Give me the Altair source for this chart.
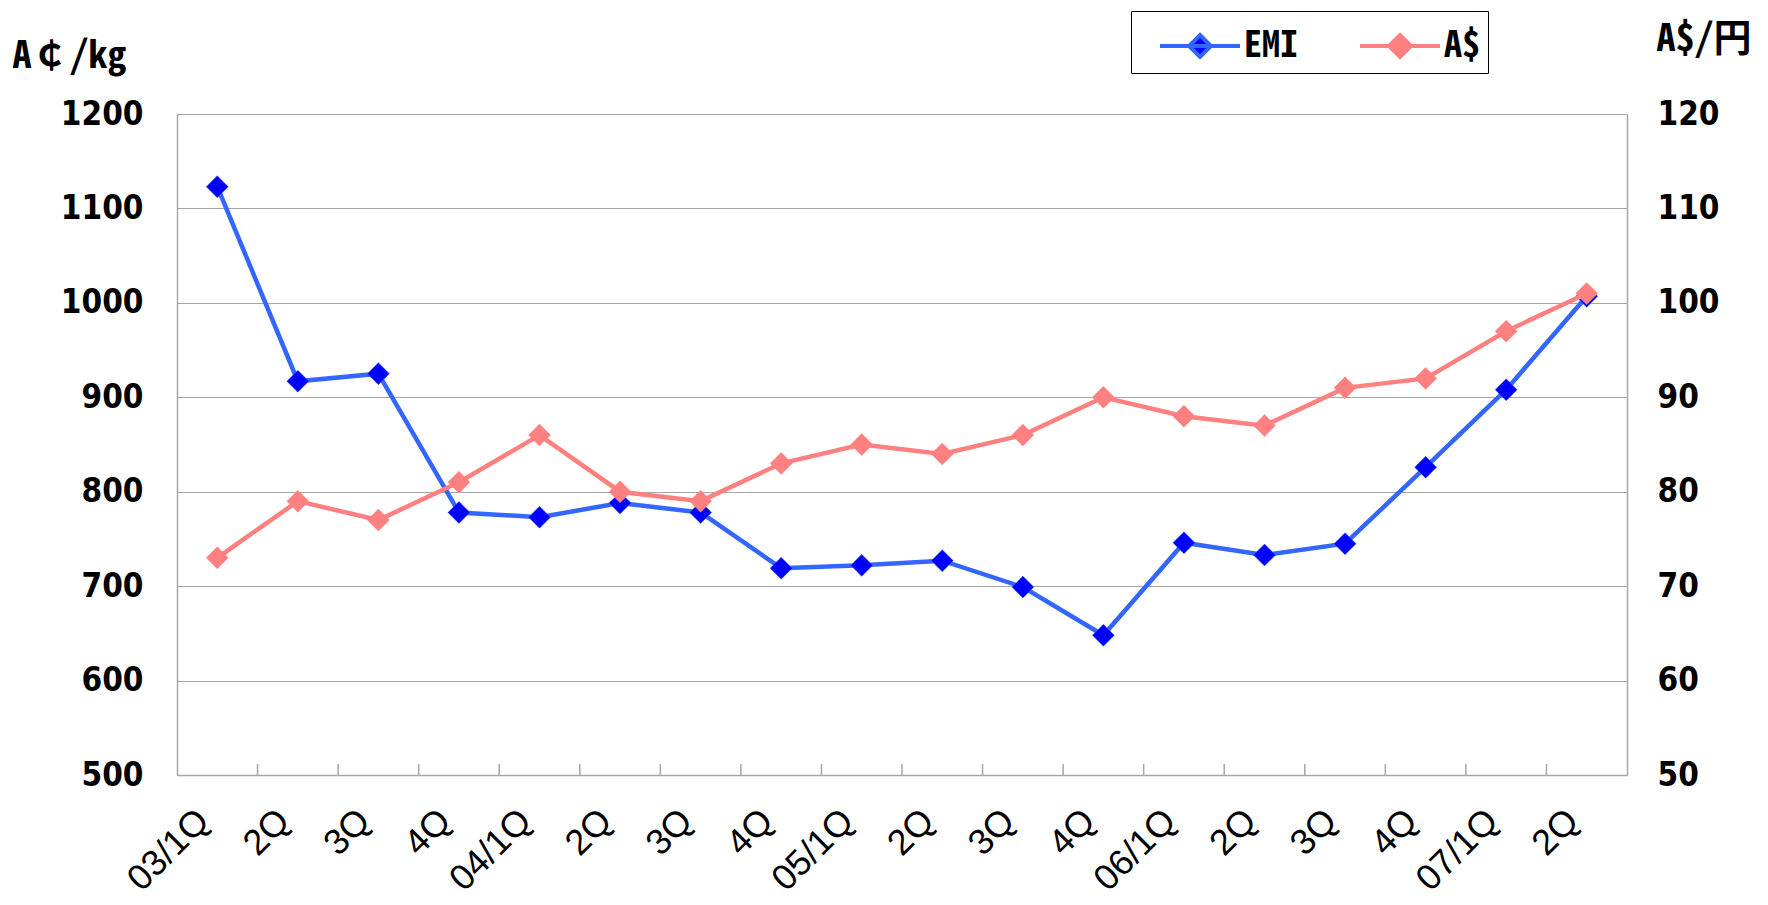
import altair as alt
import pandas as pd

# ---- data ----
quarters = ["03/1Q", "03/2Q", "03/3Q", "03/4Q",
            "04/1Q", "04/2Q", "04/3Q", "04/4Q",
            "05/1Q", "05/2Q", "05/3Q", "05/4Q",
            "06/1Q", "06/2Q", "06/3Q", "06/4Q",
            "07/1Q", "07/2Q"]
emi_values = [1123, 917, 925, 778, 773, 788, 778, 719, 722, 727, 699, 648,
              746, 733, 745, 826, 908, 1007]
aud_values = [73, 79, 77, 81, 86, 80, 79, 83, 85, 84, 86, 90,
              88, 87, 91, 92, 97, 101]
series_names = ["EMI", "A$"]
line_colors = ["#3366FF", "#FF8080"]
marker_colors = ["#0000FF", "#FF8080"]
left_ticks = [500, 600, 700, 800, 900, 1000, 1100, 1200]
right_ticks = [50, 60, 70, 80, 90, 100, 110, 120]

emi_df = pd.DataFrame({"q": quarters, "value": emi_values, "series": "EMI"})
aud_df = pd.DataFrame({"q": quarters, "value": aud_values, "series": "A$"})
tick_df = pd.DataFrame({"q": quarters[1:]})

W, H = 1450, 661
NUM_FONT = "DejaVu Sans Condensed, Liberation Sans, Noto Sans CJK JP"
JP_FONT = "Noto Sans Mono CJK JP, Noto Sans CJK JP, DejaVu Sans"
GRID = "#A6A6A6"

x_axis = alt.Axis(
    title=None,
    labelExpr="indexof(datum.value, '1Q') >= 0 ? datum.value : substring(datum.value, 3)",
    labelAngle=-45, labelAlign="right", labelBaseline="middle",
    labelFont="Liberation Sans", labelFontSize=36, labelColor="black",
    labelPadding=40, labelOffset=-14, ticks=False, domainColor=GRID, domainWidth=1.5,
    grid=False, labelOverlap=False,
)
x_scale = alt.Scale(type="band", paddingInner=0, paddingOuter=0)


def xenc(band=0.5):
    return alt.X("q:N", sort=quarters, scale=x_scale, axis=x_axis, bandPosition=band)


legend_path = "M-1.6,0L1.6,0M0,-0.44L0.44,0L0,0.44L-0.44,0Z"
pad_char = "\u00a0\u00a0\u00a0"
leg = alt.Legend(
    title=None, orient="none", legendX=954, legendY=-103,
    direction="horizontal", symbolType=legend_path, symbolSize=2500,
    symbolStrokeWidth=4, labelFont=JP_FONT, labelFontSize=36,
    labelFontWeight="bold", labelColor="black", labelOffset=17,
    labelExpr="datum.label == 'A$' ? datum.label + '" + pad_char + "' : datum.label",
    strokeColor="black", fillColor="white", padding=8,
    columnPadding=41, symbolOffset=34,
)
fill_enc = alt.Fill("series:N", scale=alt.Scale(domain=series_names, range=marker_colors), legend=leg)
stroke_enc = alt.Stroke("series:N", scale=alt.Scale(domain=series_names, range=line_colors), legend=leg)

# x-axis boundary ticks (pointing inward like the original)
ticks = alt.Chart(tick_df).mark_rule(color=GRID, strokeWidth=1.5).encode(
    x=xenc(0), y=alt.value(H - 11), y2=alt.value(H)
)

left_y = alt.Y(
    "value:Q",
    scale=alt.Scale(domain=[500, 1200], nice=False, zero=False),
    axis=alt.Axis(
        orient="left", values=left_ticks, format="d", title="A￠/kg", titleAngle=0,
        titleX=-165, titleY=-47, titleAlign="left", titleBaseline="alphabetic",
        titleFont=JP_FONT, titleFontSize=38, titleFontWeight="bold", titleColor="black",
        labelFont=NUM_FONT, labelFontSize=33, labelFontWeight="bold", labelColor="black",
        labelPadding=34, ticks=False, domainColor=GRID, domainWidth=1.5,
        grid=True, gridColor=GRID, gridWidth=1.2,
    ),
)
right_y = alt.Y(
    "value:Q",
    scale=alt.Scale(domain=[50, 120], nice=False, zero=False),
    axis=alt.Axis(
        orient="right", values=right_ticks, format="d", title="A$/円", titleAngle=0,
        titleX=29, titleY=-64, titleAlign="left", titleBaseline="alphabetic",
        titleFont=JP_FONT, titleFontSize=38, titleFontWeight="bold", titleColor="black",
        labelFont=NUM_FONT, labelFontSize=33, labelFontWeight="bold", labelColor="black",
        labelPadding=30, ticks=False, domainColor=GRID, domainWidth=1.5, grid=False,
    ),
)

emi_line = alt.Chart(emi_df).mark_line(color=line_colors[0], strokeWidth=4.5).encode(x=xenc(), y=left_y)
emi_pts = alt.Chart(emi_df).mark_point(shape="diamond", filled=True, size=484, opacity=1, strokeWidth=0.5).encode(
    x=xenc(), y=left_y, fill=fill_enc, stroke=stroke_enc)
aud_line = alt.Chart(aud_df).mark_line(color=line_colors[1], strokeWidth=4.5).encode(x=xenc(), y=right_y)
aud_pts = alt.Chart(aud_df).mark_point(shape="diamond", filled=True, size=484, opacity=1, strokeWidth=0.5).encode(
    x=xenc(), y=right_y, fill=fill_enc, stroke=stroke_enc)

left = alt.layer(emi_line, emi_pts)
right = alt.layer(aud_line, aud_pts)

chart = alt.layer(ticks, left, right).resolve_scale(y="independent").properties(
    width=W, height=H,
    autosize=alt.AutoSizeParams(type="none"),
    padding={"left": 169, "top": 106, "right": 133, "bottom": 122},
    background="white",
).configure_view(stroke=None)

chart.save("out.html", embed_options={"renderer": "svg", "actions": False})
